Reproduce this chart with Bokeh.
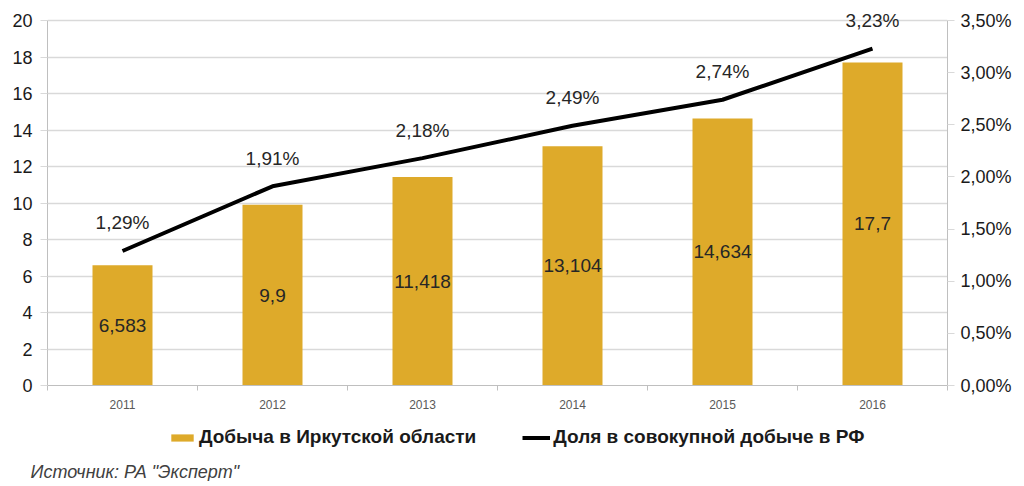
from bokeh.plotting import figure
from bokeh.layouts import column
from bokeh.models import (Range1d, LinearAxis, FixedTicker, Legend, LegendItem,
                          ColumnDataSource, Title)
from bokeh.core.properties import value
from bokeh.embed import file_html
from bokeh.resources import INLINE

years = ["2011", "2012", "2013", "2014", "2015", "2016"]
production = [6.583, 9.9, 11.418, 13.104, 14.634, 17.7]
production_labels = ["6,583", "9,9", "11,418", "13,104", "14,634", "17,7"]
share_pct = [1.29, 1.91, 2.18, 2.49, 2.74, 3.23]
share_labels = ["1,29%", "1,91%", "2,18%", "2,49%", "2,74%", "3,23%"]
left_ticks = [0, 2, 4, 6, 8, 10, 12, 14, 16, 18, 20]
right_ticks = [0, 0.5, 1.0, 1.5, 2.0, 2.5, 3.0, 3.5]
right_tick_labels = ["0,00%", "0,50%", "1,00%", "1,50%", "2,00%", "2,50%", "3,00%", "3,50%"]
legend_bar = "Добыча в Иркутской области"
legend_line = "Доля в совокупной добыче в РФ"
source_note = 'Источник: РА "Эксперт"'

FONT = "Liberation Sans"
GOLD = "#DEAA2A"
GRID = "#D9D9D9"
AXIS = "#BFBFBF"

LEFT_MAX, RIGHT_MAX = 20, 3.5
TOP_PAD = 385 / 365  # headroom above the top gridline for the labels

xs = list(range(len(years)))
src = ColumnDataSource(dict(
    x=xs, prod=production, half=[v / 2 for v in production], plab=production_labels,
    share=share_pct, slab=share_labels))

p = figure(width=1024, height=415, output_backend="svg", toolbar_location=None,
           x_range=Range1d(-0.5, len(years) - 0.5), y_range=Range1d(0, LEFT_MAX * TOP_PAD),
           min_border_left=47, min_border_right=77, min_border_top=0, min_border_bottom=30,
           outline_line_color=None)
p.extra_y_ranges = {"pct": Range1d(0, RIGHT_MAX * TOP_PAD)}

# x axis
p.xaxis.ticker = FixedTicker(ticks=xs, minor_ticks=[i + 0.5 for i in range(-1, len(years))])
p.xaxis.major_label_overrides = {i: y for i, y in enumerate(years)}
p.xaxis.major_tick_line_color = None
p.xaxis.minor_tick_out = 5
p.xaxis.minor_tick_in = 0
p.xaxis.minor_tick_line_color = AXIS
p.xaxis.axis_line_color = AXIS
p.xaxis.major_label_text_font = FONT
p.xaxis.major_label_text_font_size = "12px"
p.xaxis.major_label_text_color = "#595959"
p.xaxis.major_label_standoff = 8
p.xgrid.grid_line_color = None

# left axis
p.yaxis.ticker = FixedTicker(ticks=left_ticks)
p.yaxis.bounds = (0, LEFT_MAX)
p.yaxis.major_tick_out = 7
p.yaxis.major_tick_in = 0
p.yaxis.minor_tick_line_color = None
p.yaxis.major_tick_line_color = GRID
p.yaxis.axis_line_color = AXIS
p.yaxis.major_label_text_font = FONT
p.yaxis.major_label_text_font_size = "18px"
p.yaxis.major_label_text_color = "#1a1a1a"
p.yaxis.major_label_standoff = 8
p.ygrid.ticker = FixedTicker(ticks=left_ticks)
p.ygrid.grid_line_color = GRID
p.ygrid.grid_line_width = 1.5

# right axis
ra = LinearAxis(y_range_name="pct", ticker=FixedTicker(ticks=right_ticks), bounds=(0, RIGHT_MAX))
ra.major_label_overrides = {t: l for t, l in zip(right_ticks, right_tick_labels)}
ra.major_tick_out = 7
ra.major_tick_in = 0
ra.minor_tick_line_color = None
ra.major_tick_line_color = GRID
ra.axis_line_color = AXIS
ra.major_label_text_font = FONT
ra.major_label_text_font_size = "18px"
ra.major_label_text_color = "#1a1a1a"
ra.major_label_standoff = 6
p.add_layout(ra, "right")

p.vbar(x="x", top="prod", width=0.4, source=src, fill_color=GOLD, line_color=None)
p.line(x="x", y="share", source=src, y_range_name="pct", line_color="black", line_width=4)

p.text(x="x", y="half", text="plab", source=src, text_align="center", text_baseline="middle",
       text_font=value(FONT), text_font_size="19px", text_color="#262626")
p.text(x="x", y="share", text="slab", source=src, y_range_name="pct", y_offset=-28,
       text_align="center", text_baseline="middle",
       text_font=value(FONT), text_font_size="19px", text_color="#262626")

# ---- legend + source strip ----
p2 = figure(width=1024, height=66, output_backend="svg", toolbar_location=None,
            x_range=Range1d(0, 1), y_range=Range1d(0, 1),
            min_border_left=47, min_border_right=77, min_border_top=0, min_border_bottom=0,
            outline_line_color=None)
p2.axis.visible = False
p2.grid.visible = False
nan = float("nan")
lb = p2.vbar(x=[nan], top=[nan], width=0.1, fill_color=GOLD, line_color=None)
ll = p2.line(x=[nan, nan], y=[nan, nan], line_color="black", line_width=4)

legend = Legend(items=[LegendItem(label=legend_bar, renderers=[lb]),
                       LegendItem(label=legend_line, renderers=[ll])],
                orientation="horizontal", location=(121, 11),
                label_text_font=FONT, label_text_font_size="19px", label_text_font_style="bold",
                label_text_color="#1a1a1a", border_line_color=None, background_fill_alpha=0,
                spacing=46, glyph_width=28, glyph_height=9, label_standoff=3,
                padding=2, margin=0)
p2.add_layout(legend)

note = Title(text=source_note, align="left", offset=-17, standoff=0,
             text_font=FONT, text_font_size="18px", text_font_style="italic",
             text_color="#404040")
p2.add_layout(note, "below")

open("out.html", "w").write(file_html(column(p, p2, spacing=0), INLINE))
